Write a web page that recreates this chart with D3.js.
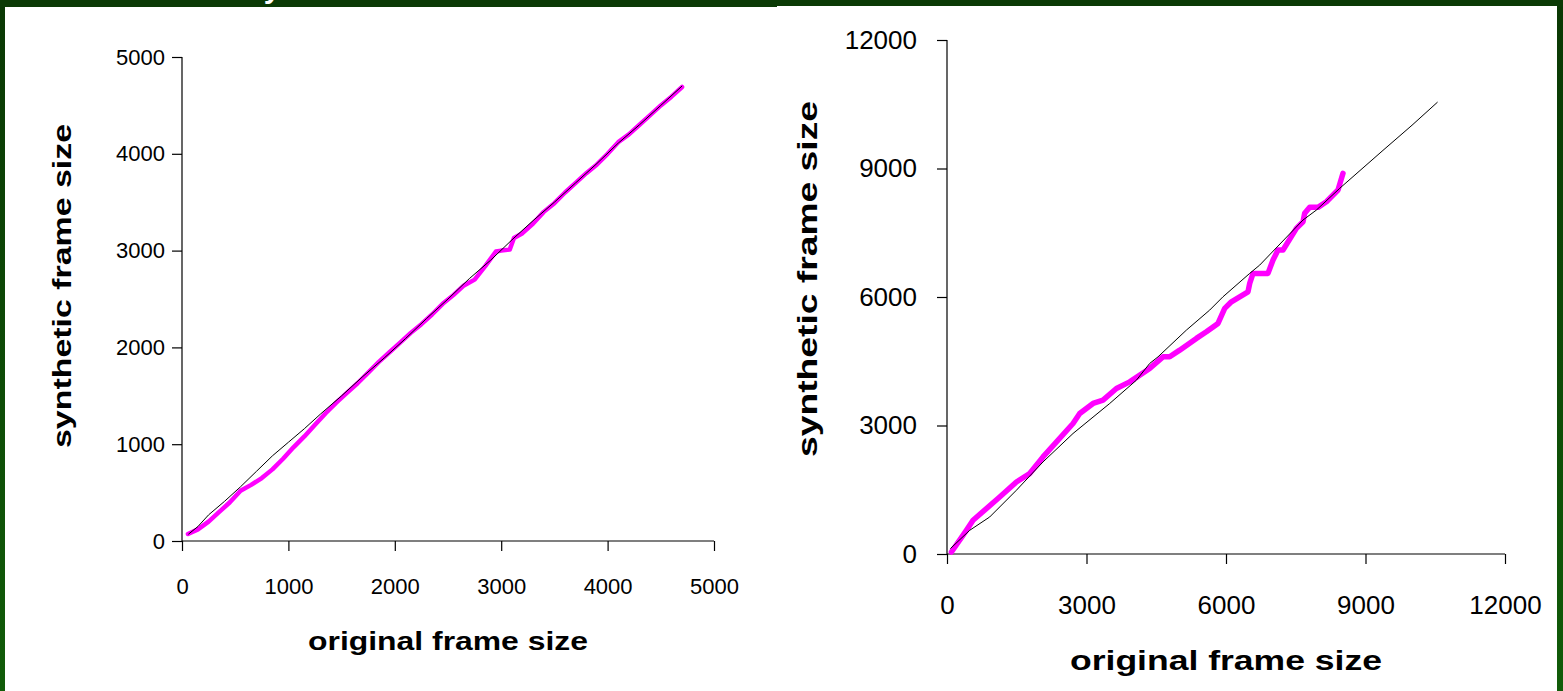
<!DOCTYPE html>
<html>
<head>
<meta charset="utf-8">
<script src="https://cdn.jsdelivr.net/npm/d3@7"></script>
<style>
  html, body { margin: 0; padding: 0; background: #0b3a05; }
  svg { display: block; }
</style>
</head>
<body>
<div id="chart"></div>
<script>
// axis ticks
const leftTicks = [0, 1000, 2000, 3000, 4000, 5000];
const rightTicks = [0, 3000, 6000, 9000, 12000];

// left panel: original vs original (reference) and original vs synthetic
const leftReference = [
  [60, 70], [150, 150], [250, 270], [400, 410], [550, 560], [700, 720], [850, 880],
  [1000, 1020], [1150, 1160], [1300, 1310], [1500, 1500], [1700, 1700], [1900, 1890],
  [2100, 2090], [2300, 2300], [2500, 2500], [2700, 2710], [2900, 2900], [3100, 3110],
  [3300, 3310], [3500, 3500], [3700, 3700], [3900, 3900], [4100, 4110], [4300, 4300],
  [4500, 4500], [4700, 4700]
];
const leftSynthetic = [
  [56, 72], [150, 120], [250, 200], [350, 300], [450, 400], [550, 520], [650, 580],
  [750, 650], [850, 740], [950, 850], [1050, 970], [1150, 1080], [1250, 1200],
  [1350, 1320], [1450, 1430], [1550, 1530], [1650, 1630], [1750, 1740], [1850, 1850],
  [1950, 1950], [2050, 2050], [2150, 2150], [2250, 2240], [2350, 2340], [2450, 2450],
  [2550, 2540], [2650, 2640], [2750, 2700], [2850, 2840], [2950, 2990], [3000, 3000],
  [3080, 3010], [3120, 3130], [3200, 3180], [3300, 3280], [3400, 3400], [3500, 3490],
  [3600, 3600], [3700, 3700], [3800, 3800], [3900, 3890], [4000, 4000], [4100, 4120],
  [4200, 4200], [4300, 4300], [4400, 4400], [4500, 4500], [4600, 4590], [4700, 4690]
];

// right panel
const rightReference = [
  [73, 126], [488, 553], [918, 864], [1492, 1488], [2065, 2150], [2710, 2813],
  [3499, 3514], [4073, 4058], [4359, 4449], [4538, 4603], [5148, 5227], [5649, 5694],
  [5935, 6005], [6510, 6551], [6725, 6745], [7656, 7797], [7944, 8030], [8445, 8537],
  [9376, 9423], [10000, 10010], [10550, 10550]
];
const rightSynthetic = [
  [95, 47], [417, 553], [560, 787], [1133, 1332], [1492, 1682], [1778, 1878],
  [2065, 2266], [2710, 3047], [2854, 3280], [3140, 3514], [3355, 3591], [3643, 3864],
  [3929, 4019], [4359, 4332], [4645, 4603], [4789, 4603], [5004, 4759], [5363, 5033],
  [5578, 5187], [5828, 5383], [5972, 5734], [6116, 5888], [6473, 6122], [6510, 6318],
  [6581, 6551], [6903, 6551], [7011, 6862], [7118, 7096], [7226, 7096], [7514, 7603],
  [7656, 7757], [7692, 7953], [7800, 8093], [7978, 8093], [8159, 8224], [8409, 8497],
  [8516, 8887]
];

const W = 1563, H = 691;
const FONT = "Liberation Sans, Arial, sans-serif";

const svg = d3.select("#chart").append("svg")
  .attr("width", W)
  .attr("height", H);

// slide background
const grad = svg.append("defs").append("linearGradient")
  .attr("id", "bg")
  .attr("x1", 0).attr("y1", 0).attr("x2", 0).attr("y2", 1);
grad.append("stop").attr("offset", "0%").attr("stop-color", "#0a3804");
grad.append("stop").attr("offset", "100%").attr("stop-color", "#115c09");

svg.append("rect").attr("width", W).attr("height", H).attr("fill", "url(#bg)");
svg.append("rect").attr("width", W).attr("height", 7).attr("fill", "#0b3a05");

// slide title, only its descender shows above the charts
svg.append("text")
  .attr("x", 272)
  .attr("y", -2)
  .attr("text-anchor", "middle")
  .style("font-family", FONT)
  .style("font-size", "30px")
  .style("font-weight", "bold")
  .attr("fill", "#ffffff")
  .text("y");

svg.append("rect").attr("x", 5).attr("y", 7).attr("width", 773).attr("height", H - 7).attr("fill", "#ffffff");
svg.append("rect").attr("x", 777).attr("y", 6).attr("width", 780).attr("height", H - 6).attr("fill", "#ffffff");

function drawPanel({ domain, ticks, xRange, yRange, reference, synthetic, tickSize, titleSize,
                     yTitleX, yTitleY, yTitleLen, xTitleY, xTitleLen, xPad, yPad, magentaWidth }) {
  const x = d3.scaleLinear().domain(domain).range(xRange);
  const y = d3.scaleLinear().domain(domain).range(yRange);
  const g = svg.append("g");

  const xAxis = g.append("g")
    .attr("transform", `translate(0,${yRange[0]})`)
    .call(d3.axisBottom(x).tickValues(ticks).tickSize(10).tickPadding(xPad).tickFormat(d3.format("d")));
  const yAxis = g.append("g")
    .attr("transform", `translate(${xRange[0]},0)`)
    .call(d3.axisLeft(y).tickValues(ticks).tickSize(10).tickPadding(yPad).tickFormat(d3.format("d")));

  [xAxis, yAxis].forEach(a => {
    a.select(".domain").attr("stroke", "#000").attr("stroke-width", 1.2);
    a.selectAll(".tick line").attr("stroke", "#000").attr("stroke-width", 1.2);
    a.selectAll(".tick text")
      .attr("fill", "#000")
      .style("font-family", FONT)
      .style("font-size", tickSize + "px");
  });
  // axis lines stop at the outer ticks
  xAxis.select(".domain").attr("d", `M${xRange[0]},0H${xRange[1]}`);
  yAxis.select(".domain").attr("d", `M0,${yRange[0]}V${yRange[1]}`);

  const line = d3.line().x(d => x(d[0])).y(d => y(d[1]));

  g.append("path")
    .datum(synthetic)
    .attr("fill", "none")
    .attr("stroke", "#ff00ff")
    .attr("stroke-width", magentaWidth)
    .attr("stroke-linejoin", "round")
    .attr("stroke-linecap", "round")
    .attr("d", line);

  g.append("path")
    .datum(reference)
    .attr("fill", "none")
    .attr("stroke", "#000")
    .attr("stroke-width", 1)
    .attr("d", line);

  g.append("text")
    .attr("x", (xRange[0] + xRange[1]) / 2)
    .attr("y", xTitleY)
    .attr("text-anchor", "middle")
    .attr("textLength", xTitleLen)
    .attr("lengthAdjust", "spacingAndGlyphs")
    .style("font-family", FONT)
    .style("font-size", titleSize + "px")
    .style("font-weight", "bold")
    .text("original frame size");

  g.append("text")
    .attr("transform", `translate(${yTitleX},${yTitleY}) rotate(-90)`)
    .attr("text-anchor", "middle")
    .attr("dy", "0.35em")
    .attr("textLength", yTitleLen)
    .attr("lengthAdjust", "spacingAndGlyphs")
    .style("font-family", FONT)
    .style("font-size", titleSize + "px")
    .style("font-weight", "bold")
    .text("synthetic frame size");
}

drawPanel({
  domain: [0, 5000], ticks: leftTicks,
  xRange: [182, 714], yRange: [541, 57],
  reference: leftReference, synthetic: leftSynthetic,
  tickSize: 22, titleSize: 25, yTitleX: 62, yTitleY: 286, yTitleLen: 324, xTitleY: 650, xTitleLen: 280,
  xPad: 27, yPad: 7, magentaWidth: 4.5
});

drawPanel({
  domain: [0, 12000], ticks: rightTicks,
  xRange: [947, 1505], yRange: [554, 40],
  reference: rightReference, synthetic: rightSynthetic,
  tickSize: 26, titleSize: 27, yTitleX: 808, yTitleY: 279, yTitleLen: 356, xTitleY: 670, xTitleLen: 312,
  xPad: 32, yPad: 20, magentaWidth: 5.5
});
</script>
</body>
</html>
